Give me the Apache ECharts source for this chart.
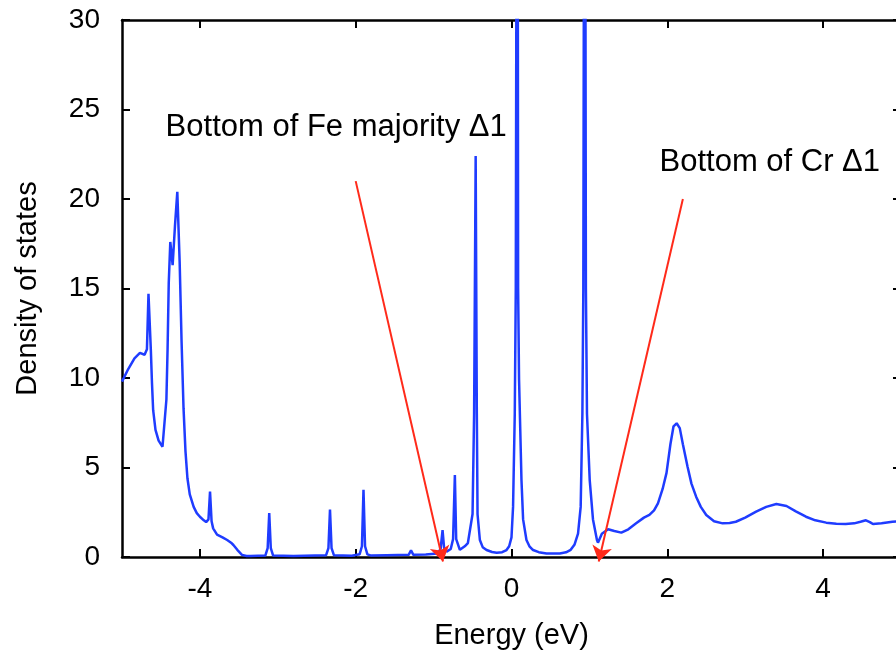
<!DOCTYPE html>
<html>
<head>
<meta charset="utf-8">
<script src="https://cdn.jsdelivr.net/npm/echarts@6/dist/echarts.min.js"></script>
<style>html,body{margin:0;padding:0;background:#fff}#c{width:896px;height:656px}</style>
</head>
<body>
<div id="c"></div>
<script>
// Energy (eV) sample positions
const energy = [
  -5.00, -4.92, -4.84, -4.77, -4.71, -4.68, -4.66, -4.63, -4.615, -4.60, -4.57, -4.53, -4.48, -4.46,
  -4.43, -4.415, -4.40, -4.38, -4.35, -4.32, -4.29, -4.26, -4.235, -4.21, -4.185, -4.16, -4.13, -4.08, -4.04, -4.00,
  -3.95, -3.92, -3.89, -3.87, -3.85, -3.83, -3.78, -3.71, -3.65, -3.60, -3.57, -3.52, -3.46, -3.40, -3.35,
  -3.16, -3.13, -3.11, -3.09, -3.06, -2.80, -2.38, -2.35, -2.33, -2.31, -2.28,
  -2.05, -1.95, -1.92, -1.90, -1.88, -1.85, -1.80, -1.60, -1.32, -1.29, -1.26,
  -1.10, -0.95, -0.91, -0.885, -0.865, -0.833, -0.78, -0.75, -0.727, -0.71, -0.663, -0.60, -0.56,
  -0.50, -0.48, -0.46, -0.445, -0.436, -0.406, -0.37, -0.32, -0.25, -0.19, -0.12, -0.064, -0.03,
  0.00, 0.02, 0.042, 0.055, 0.075, 0.085, 0.097, 0.128, 0.149, 0.192, 0.23, 0.277, 0.35, 0.449, 0.55, 0.62,
  0.70, 0.76, 0.81, 0.854, 0.888, 0.91, 0.922, 0.94, 0.955, 0.969, 1.004, 1.046, 1.097, 1.11,
  1.16, 1.24, 1.32, 1.41, 1.50, 1.60, 1.70, 1.77, 1.83, 1.88, 1.94, 1.99, 2.04, 2.08, 2.12, 2.16, 2.20,
  2.26, 2.31, 2.37, 2.43, 2.50, 2.60, 2.71, 2.80, 2.88, 3.00, 3.14, 3.27, 3.40, 3.53, 3.65, 3.78, 3.90,
  4.04, 4.17, 4.29, 4.40, 4.48, 4.55, 4.60, 4.64, 4.75, 4.89, 5.00
];
// Density of states values
const dos = [
  9.8, 10.5, 11.1, 11.4, 11.3, 11.6, 14.7, 11.6, 9.7, 8.2, 7.1, 6.5, 6.16, 6.26,
  8.8, 11.6, 15.3, 17.6, 16.3, 18.5, 20.4, 16.5, 12.0, 8.3, 5.9, 4.4, 3.5, 2.8, 2.45, 2.25,
  2.05, 1.95, 2.1, 3.65, 2.0, 1.6, 1.25, 1.1, 0.95, 0.8, 0.67, 0.4, 0.12, 0.06, 0.05,
  0.08, 0.5, 2.45, 0.5, 0.08, 0.05, 0.1, 0.5, 2.65, 0.5, 0.1,
  0.07, 0.15, 0.6, 3.75, 0.6, 0.15, 0.08, 0.1, 0.12, 0.38, 0.12,
  0.14, 0.2, 0.45, 1.5, 0.5, 0.3, 0.45, 1.0, 4.58, 1.0, 0.4, 0.6, 0.78,
  2.4, 8.0, 22.4, 8.0, 2.4, 0.95, 0.55, 0.39, 0.28, 0.24, 0.27, 0.39, 0.6,
  1.1, 2.8, 8.0, 15.0, 60.0, 15.0, 9.9, 4.3, 2.1, 0.95, 0.6, 0.39, 0.27, 0.2, 0.19, 0.2,
  0.26, 0.4, 0.7, 1.3, 2.8, 8.0, 15.0, 60.0, 15.0, 8.0, 4.3, 2.1, 0.95, 0.8,
  1.3, 1.55, 1.45, 1.36, 1.55, 1.88, 2.2, 2.35, 2.6, 3.0, 3.8, 4.7, 6.3, 7.3, 7.47, 7.2, 6.3,
  5.04, 4.1, 3.37, 2.8, 2.35, 2.0, 1.88, 1.9, 1.97, 2.2, 2.53, 2.8, 2.96, 2.85, 2.55, 2.25, 2.05,
  1.92, 1.86, 1.84, 1.88, 1.97, 2.05, 1.95, 1.84, 1.88, 1.97, 2.0
];
const xTicks = [-4, -2, 0, 2, 4];
const yTickStep = 5;
// Annotation arrows: [start, end] in data coordinates
const arrowFe = [[-2.0, 21.0], [-0.88, -0.25]];
const arrowCr = [[2.2, 20.0], [1.12, -0.25]];
const labelTexts = ['Bottom of Fe majority \u03941', 'Bottom of Cr \u03941'];
const labelAnchors = [[-4.44, 23.97], [1.90, 22.04]];

const FONT = '"Liberation Sans", Arial, Helvetica, sans-serif';
const chart = echarts.init(document.getElementById('c'), null, {renderer: 'canvas'});
const axisLineStyle = {color: '#000', width: 2.5};
const tickStyle = {color: '#000', width: 2};

chart.setOption({
  backgroundColor: '#fff',
  animation: false,
  grid: {left: 122, top: 20, width: 779, height: 537, containLabel: false, outerBoundsMode: 'none'},
  xAxis: [{
    type: 'value', min: -5, max: 5, position: 'bottom',
    axisLine: {show: true, onZero: false, lineStyle: axisLineStyle},
    axisTick: {show: true, inside: true, length: 8, customValues: xTicks, lineStyle: tickStyle},
    axisLabel: {show: true, customValues: xTicks, margin: 18, fontSize: 28, color: '#000', fontFamily: FONT},
    splitLine: {show: false},
    name: 'Energy (eV)', nameLocation: 'middle', nameGap: 64,
    nameTextStyle: {fontSize: 29, color: '#000', fontFamily: FONT}
  }, {
    type: 'value', min: -5, max: 5, position: 'top',
    axisLine: {show: true, onZero: false, lineStyle: axisLineStyle},
    axisTick: {show: true, inside: true, length: 8, customValues: xTicks, lineStyle: tickStyle},
    axisLabel: {show: false},
    splitLine: {show: false}
  }],
  yAxis: [{
    type: 'value', min: 0, max: 30, interval: yTickStep, position: 'left',
    axisLine: {show: true, onZero: false, lineStyle: axisLineStyle},
    axisTick: {show: true, inside: true, length: 8, lineStyle: tickStyle},
    axisLabel: {show: true, margin: 22, fontSize: 28, color: '#000', fontFamily: FONT},
    splitLine: {show: false},
    name: 'Density of states', nameLocation: 'middle', nameGap: 80, nameRotate: 90,
    nameTextStyle: {fontSize: 29, color: '#000', fontFamily: FONT}
  }, {
    type: 'value', min: 0, max: 30, interval: yTickStep, position: 'right',
    axisLine: {show: true, onZero: false, lineStyle: axisLineStyle},
    axisTick: {show: true, inside: true, length: 8, lineStyle: tickStyle},
    axisLabel: {show: false},
    splitLine: {show: false}
  }],
  series: [{
    type: 'line',
    data: energy.map((e, i) => [e, dos[i]]),
    xAxisIndex: 0, yAxisIndex: 0,
    showSymbol: false, symbol: 'none', clip: true,
    lineStyle: {color: '#1f3cff', width: 2.5},
    z: 3
  }, {
    type: 'lines',
    coordinateSystem: 'cartesian2d',
    xAxisIndex: 0, yAxisIndex: 0,
    clip: false,
    symbol: ['none', 'arrow'],
    symbolSize: [8, 15],
    lineStyle: {color: '#ff2a1a', width: 2, opacity: 1},
    data: [{coords: arrowFe}, {coords: arrowCr}],
    z: 4
  }, {
    type: 'scatter',
    xAxisIndex: 0, yAxisIndex: 0,
    symbolSize: 0,
    itemStyle: {opacity: 1},
    data: labelAnchors.map((p, i) => ({value: p, name: labelTexts[i]})),
    label: {show: true, position: 'right', distance: 0, formatter: '{b}', fontSize: 31, color: '#000', opacity: 1, fontFamily: FONT},
    z: 5
  }]
});
</script>
</body>
</html>
